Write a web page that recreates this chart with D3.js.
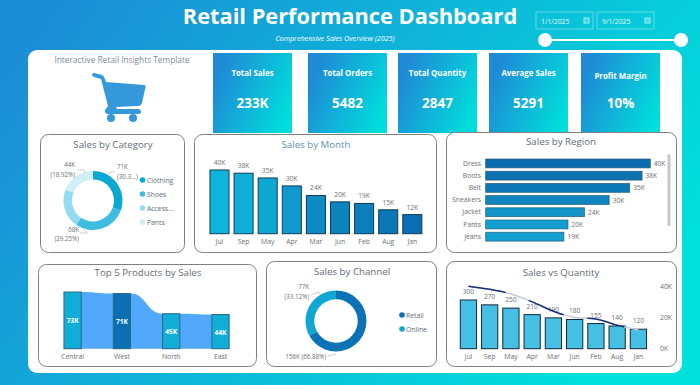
<!DOCTYPE html>
<html>
<head>
<meta charset="utf-8">
<script src="https://cdn.jsdelivr.net/npm/d3@7"></script>
<style>
  html, body { margin: 0; padding: 0; background: #fff; }
  svg { display: block; }
  text { font-family: "Open Sans", "Noto Sans", sans-serif; }
</style>
</head>
<body>
<div id="dashboard"></div>
<script>
// KPI cards
const kpiLabels = ["Total Sales", "Total Orders", "Total Quantity", "Average Sales", "Profit Margin"];
const kpiValues = ["233K", "5482", "2847", "5291", "10%"];

// Sales by Category
const categories = ["Clothing", "Shoes", "Access...", "Pants"];
const categorySales = [71, 68, 50, 44];

// Sales by Month / Sales vs Quantity
const months = ["Jul", "Sep", "May", "Apr", "Mar", "Jun", "Feb", "Aug", "Jan"];
const monthSales = [40, 38, 35, 30, 24, 20, 19, 15, 12];
const monthQuantity = [300, 270, 250, 210, 190, 180, 155, 140, 120];

// Sales by Region (labels as they are in the picture)
const regionLabels = ["Dress", "Boots", "Belt", "Sneakers", "Jacket", "Pants", "Jeans"];
const regionSales = [40, 38, 35, 30, 24, 20, 19];

// Top 5 products
const topLabels = ["Central", "West", "North", "East"];
const topSales = [73, 71, 45, 44];

// Sales by Channel
const channels = ["Retail", "Online"];
const channelSales = [156, 77];

const W = 700, H = 385;
const svg = d3.select("#dashboard").append("svg").attr("width", W).attr("height", H);
const defs = svg.append("defs");

function hGradient(id, from, to, x1, y1, x2, y2) {
  const g = defs.append("linearGradient").attr("id", id)
    .attr("x1", x1).attr("y1", y1).attr("x2", x2).attr("y2", y2);
  g.append("stop").attr("offset", "0%").attr("stop-color", from);
  g.append("stop").attr("offset", "100%").attr("stop-color", to);
}
hGradient("bg", "#1b8dd6", "#00e0dc", "0%", "20%", "100%", "60%");
hGradient("card", "#1f8ad6", "#00dedb", "5%", "30%", "100%", "70%");

svg.append("rect").attr("width", W).attr("height", H).attr("fill", "url(#bg)");
svg.append("rect").attr("x", 28).attr("y", 50).attr("width", 654).attr("height", 323)
  .attr("rx", 9).attr("fill", "#fff");

// header
svg.append("text").attr("x", 350).attr("y", 24).attr("text-anchor", "middle")
  .attr("font-size", 21.8).attr("font-weight", 700).attr("fill", "#fff")
  .text("Retail Performance Dashboard");
svg.append("text").attr("x", 335).attr("y", 41).attr("text-anchor", "middle")
  .attr("font-size", 7.2).attr("font-style", "italic").attr("fill", "#fff")
  .text("Comprehensive Sales Overview (2025)");

// date slicer
const dateText = ["1/1/2025", "9/1/2025"];
const dateBox = d3.scaleOrdinal().domain(dateText).range([536, 597]);
dateText.forEach((d) => {
  const g = svg.append("g").attr("transform", `translate(${dateBox(d)},12)`);
  g.append("rect").attr("width", 57).attr("height", 17)
    .attr("fill", "none").attr("stroke", "#fff").attr("stroke-opacity", 0.35);
  g.append("text").attr("x", 5).attr("y", 11.5).attr("font-size", 6.8).attr("fill", "#e6fbfb").text(d);
  g.append("rect").attr("x", 48).attr("y", 6).attr("width", 5).attr("height", 5)
    .attr("fill", "#fff").attr("fill-opacity", 0.25).attr("stroke", "#d8f8f8").attr("stroke-opacity", 0.7);
});
svg.append("line").attr("x1", 545).attr("x2", 681).attr("y1", 40).attr("y2", 40)
  .attr("stroke", "#fff").attr("stroke-width", 2);
[545, 681].forEach((cx) => {
  svg.append("circle").attr("cx", cx).attr("cy", 40).attr("r", 7).attr("fill", "#fff");
});

// logo block
svg.append("text").attr("x", 122).attr("y", 63).attr("text-anchor", "middle")
  .attr("font-size", 8.3).attr("fill", "#7b8b99").text("Interactive Retail Insights Template");
const cart = svg.append("g").attr("fill", "#3498db");
cart.append("path").attr("d",
  "M94,73 L102,75 Q104,76 105,79 L106,82 L144,85 Q146,85 145.500,87 L142,103 Q141,106 138,106 L116,107 L117,109 L139,109 Q141,110 141,112 Q141,114 139,114 L108,114 Q104,113 105,110 L108,106 L101,79 L94,77 Q92,76 92,75 Q92,73 94,73 Z");
cart.append("circle").attr("cx", 111).attr("cy", 118).attr("r", 4);
cart.append("circle").attr("cx", 133).attr("cy", 118).attr("r", 4);

// KPI cards
const cardX = d3.scaleOrdinal().domain(kpiLabels).range([213, 308, 398, 489, 581]);
kpiLabels.forEach((label, i) => {
  const g = svg.append("g").attr("transform", `translate(${cardX(label)},53)`);
  g.append("rect").attr("width", 79).attr("height", 80).attr("fill", "url(#card)");
  g.append("text").attr("x", 39.5).attr("y", i === 4 ? 26 : 23).attr("text-anchor", "middle")
    .attr("font-size", 7.9).attr("font-weight", 700).attr("fill", "#fff").text(label);
  g.append("text").attr("x", 39.5).attr("y", 55).attr("text-anchor", "middle")
    .attr("font-size", 13.5).attr("font-weight", 700).attr("fill", "#fff").text(kpiValues[i]);
});

// framed panels
function panel(x, y, w, h, title, titleX, titleY, color) {
  svg.append("rect").attr("x", x).attr("y", y).attr("width", w).attr("height", h)
    .attr("rx", 8).attr("fill", "#fff").attr("stroke", "#808080").attr("stroke-width", 1);
  svg.append("text").attr("x", titleX).attr("y", titleY).attr("text-anchor", "middle")
    .attr("font-size", 9.7).attr("fill", color || "#5f6b75").text(title);
}
function styleAxis(g) {
  g.select(".domain").remove();
  g.selectAll(".tick line").remove();
  g.selectAll("text").attr("font-size", 6.8).attr("fill", "#6a6f75")
    .style("font-family", '"Open Sans", "Noto Sans", sans-serif');
}
const fmtK = (d) => d + "K";

// ---------- Sales by Category ----------
panel(40.5, 134.5, 144, 118, "Sales by Category", 113, 148);
const pie = d3.pie().sort(null);
const catArc = d3.arc().innerRadius(21).outerRadius(29.5);
const catColor = d3.scaleOrdinal().domain(categories).range(["#0ba8d2", "#3fbde0", "#93dcef", "#cfeef6"]);
const catG = svg.append("g").attr("transform", "translate(93,200.5)");
catG.selectAll("path").data(pie(categorySales)).join("path")
  .attr("d", catArc).attr("fill", (d, i) => catColor(categories[i]));

function noteText(text, x, y, anchor) {
  svg.append("text").attr("x", x).attr("y", y).attr("text-anchor", anchor)
    .attr("font-size", 6.2).attr("fill", "#6a6f75").text(text);
}
function leader(d) {
  svg.append("path").attr("d", d).attr("fill", "none").attr("stroke", "#b5b5b5").attr("stroke-width", 0.7);
}
noteText("71K", 117, 169, "start");
noteText("(30.3...)", 117, 179, "start");
leader("M108,176 L110,172 L115,172");
noteText("68K", 79, 232, "end");
noteText("(29.25%)", 79, 241, "end");
leader("M84,229 L87,233 L80,233");
noteText("44K", 75, 167, "end");
noteText("(18.92%)", 75, 177, "end");
leader("M78,170 L84,170 L85,173");

categories.forEach((c) => {
  const y = d3.scalePoint().domain(categories).range([180, 222])(c);
  svg.append("circle").attr("cx", 142.500).attr("cy", y).attr("r", 2.8).attr("fill", catColor(c));
  svg.append("text").attr("x", 147).attr("y", y + 3).attr("font-size", 6.8).attr("fill", "#5f6b75").text(c);
});

// ---------- Sales by Month ----------
panel(194.5, 134.5, 242, 118, "Sales by Month", 316, 148, "#5b93ab");
const monthX = d3.scaleBand().domain(months).range([204.9, 426.9]).padding(0.21);
const monthY = d3.scaleLinear().domain([0, 40]).range([233.7, 170]);
const monthColor = d3.scaleLinear().domain([12, 40]).range(["#0b6eb4", "#0fb4da"]);
svg.selectAll(".month-bar").data(monthSales).join("rect").attr("class", "month-bar")
  .attr("x", (d, i) => monthX(months[i])).attr("y", (d) => monthY(d))
  .attr("width", monthX.bandwidth()).attr("height", (d) => monthY(0) - monthY(d))
  .attr("fill", (d) => monthColor(d)).attr("stroke", "#123a55").attr("stroke-width", 1);
svg.selectAll(".month-label").data(monthSales).join("text").attr("class", "month-label")
  .attr("x", (d, i) => monthX(months[i]) + monthX.bandwidth() / 2).attr("y", (d) => monthY(d) - 5)
  .attr("text-anchor", "middle").attr("font-size", 6.6).attr("fill", "#6a6f75").text((d) => fmtK(d));
svg.append("g").attr("transform", "translate(0,235)").call(d3.axisBottom(monthX).tickSize(0).tickPadding(4))
  .call(styleAxis);

// ---------- Sales by Region ----------
panel(446.5, 132.5, 230, 120, "Sales by Region", 561, 144.500);
const regionX = d3.scaleLinear().domain([0, 40]).range([485.7, 650.3]);
const regionY = d3.scaleBand().domain(regionLabels).range([155.7, 244.4]).padding(0.27);
const regionColor = d3.scaleLinear().domain([19, 40]).range(["#12a0d2", "#0a6cae"]);
svg.selectAll(".region-bar").data(regionSales).join("rect").attr("class", "region-bar")
  .attr("x", regionX(0)).attr("y", (d, i) => regionY(regionLabels[i]))
  .attr("width", (d) => regionX(d) - regionX(0)).attr("height", regionY.bandwidth())
  .attr("fill", (d) => regionColor(d)).attr("stroke", "#2f5f78").attr("stroke-width", 0.7);
svg.selectAll(".region-label").data(regionSales).join("text").attr("class", "region-label")
  .attr("x", (d) => regionX(d) + 3.5).attr("y", (d, i) => regionY(regionLabels[i]) + regionY.bandwidth() / 2 + 2.5)
  .attr("font-size", 6.6).attr("fill", "#6a6f75").text((d) => fmtK(d));
svg.append("g").attr("transform", "translate(484,0)").call(d3.axisLeft(regionY).tickSize(0).tickPadding(3))
  .call(styleAxis);
svg.append("rect").attr("x", 667.5).attr("y", 154).attr("width", 3).attr("height", 72)
  .attr("rx", 1.5).attr("fill", "#c4c8cc");

// ---------- Top 5 Products ----------
panel(38.5, 264.5, 218, 102, "Top 5 Products by Sales", 148, 276);
const topX = d3.scaleBand().domain(topLabels).range([61.5, 231.6]).paddingInner(0.65).paddingOuter(0.05);
const topY = d3.scaleLinear().domain([0, 73]).range([348.7, 292]);
const ribbon = [];
topLabels.forEach((l, i) => {
  ribbon.push({ x: topX(l), v: topSales[i] });
  ribbon.push({ x: topX(l) + topX.bandwidth(), v: topSales[i] });
});
svg.append("path").datum(ribbon)
  .attr("d", d3.area().x((d) => d.x).y0(topY(0)).y1((d) => topY(d.v)).curve(d3.curveBumpX))
  .attr("fill", "#52a8fb");
svg.selectAll(".top-bar").data(topSales).join("rect").attr("class", "top-bar")
  .attr("x", (d, i) => topX(topLabels[i])).attr("y", (d) => topY(d))
  .attr("width", topX.bandwidth()).attr("height", (d) => topY(0) - topY(d))
  .attr("fill", (d, i) => (i === 1 ? "#0a6fb3" : "#10aed6")).attr("stroke", "#2c6a80").attr("stroke-width", 1);
svg.selectAll(".top-label").data(topSales).join("text").attr("class", "top-label")
  .attr("x", (d, i) => topX(topLabels[i]) + topX.bandwidth() / 2).attr("y", (d) => (topY(d) + topY(0)) / 2 + 3)
  .attr("text-anchor", "middle").attr("font-size", 6.6).attr("font-weight", 700).attr("fill", "#fff")
  .text((d) => fmtK(d));
svg.append("g").attr("transform", "translate(0,350)").call(d3.axisBottom(topX).tickSize(0).tickPadding(4))
  .call(styleAxis);

// ---------- Sales by Channel ----------
panel(266.5, 261.5, 170, 105, "Sales by Channel", 352, 275);
const chanArc = d3.arc().innerRadius(21.7).outerRadius(30.5);
const chanColor = d3.scaleOrdinal().domain(channels).range(["#0b72b6", "#12a6d3"]);
svg.append("g").attr("transform", "translate(336,321)")
  .selectAll("path").data(pie(channelSales)).join("path")
  .attr("d", chanArc).attr("fill", (d, i) => chanColor(channels[i]));
noteText("77K", 309, 289, "end");
noteText("(33.12%)", 309, 299, "end");
leader("M311,295 L319,292 L320,294");
noteText("156K (66.88%)", 326, 359, "end");
leader("M328,356 L336,354");
channels.forEach((c) => {
  const y = d3.scalePoint().domain(channels).range([315, 329])(c);
  svg.append("circle").attr("cx", 402).attr("cy", y).attr("r", 2.8).attr("fill", chanColor(c));
  svg.append("text").attr("x", 406).attr("y", y + 3).attr("font-size", 6.8).attr("fill", "#5f6b75").text(c);
});

// ---------- Sales vs Quantity ----------
panel(446.5, 261.5, 230, 105, "Sales vs Quantity", 561, 276);
const sqX = d3.scaleBand().domain(months).range([455.3, 651.5]).padding(0.235);
const qtyY = d3.scaleLinear().domain([0, 300]).range([348.7, 300]);
const salesY = d3.scaleLinear().domain([0, 40]).range([348.7, 286.2]);
svg.selectAll(".qty-bar").data(monthQuantity).join("rect").attr("class", "qty-bar")
  .attr("x", (d, i) => sqX(months[i])).attr("y", (d) => qtyY(d))
  .attr("width", sqX.bandwidth()).attr("height", (d) => qtyY(0) - qtyY(d))
  .attr("fill", "#46bfe4").attr("stroke", "#0f2a3a").attr("stroke-width", 1);
svg.selectAll(".qty-label").data(monthQuantity).join("text").attr("class", "qty-label")
  .attr("x", (d, i) => sqX(months[i]) + sqX.bandwidth() / 2).attr("y", (d) => qtyY(d) - 6)
  .attr("text-anchor", "middle").attr("font-size", 6.6).attr("fill", "#6a6f75").text((d) => d);
const salesLine = d3.line()
  .x((d, i) => sqX(months[i]) + sqX.bandwidth() / 2).y((d) => salesY(d)).curve(d3.curveMonotoneX);
svg.append("path").attr("d", salesLine(monthSales)).attr("fill", "none")
  .attr("stroke", "#c3cad6").attr("stroke-width", 1.4);
svg.append("path").attr("d", salesLine(monthSales)).attr("fill", "none")
  .attr("stroke", "#16307a").attr("stroke-width", 1.5).attr("stroke-dasharray", "38 24");
svg.append("g").attr("transform", "translate(0,350)").call(d3.axisBottom(sqX).tickSize(0).tickPadding(4))
  .call(styleAxis);
svg.append("g").attr("transform", "translate(658,0)")
  .call(d3.axisRight(salesY).tickValues([0, 20, 40]).tickFormat(fmtK).tickSize(0).tickPadding(2))
  .call(styleAxis);
</script>
</body>
</html>
